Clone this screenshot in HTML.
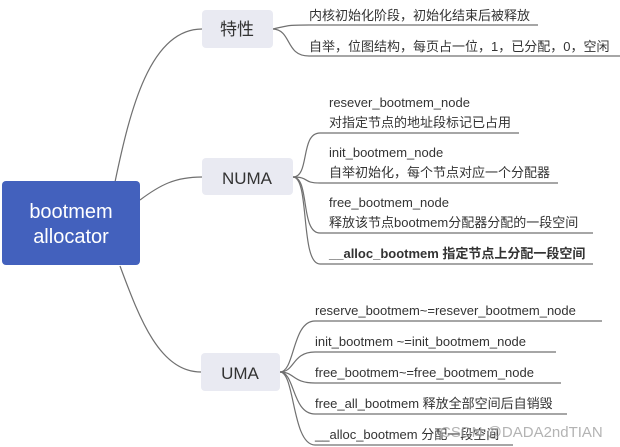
<!DOCTYPE html>
<html><head><meta charset="utf-8"><style>
body{margin:0;background:#fff;}
svg{display:block;font-family:"Liberation Sans","Noto Sans CJK SC",sans-serif;}
</style></head><body>
<svg width="620" height="447" viewBox="0 0 620 447" xmlns="http://www.w3.org/2000/svg">
<g fill="none" stroke="#707070" stroke-width="1.2">
<path d="M115,182 C130,110 150,29 202,29"/>
<path d="M140,200 C160,185 175,177 202,177"/>
<path d="M120,266 C140,320 160,372 201,372"/>
<path d="M273,29 C290,25 290,25 309,25 L538,25"/>
<path d="M273,29 C292,30 285,56 309,56 L620,56"/>
<path d="M293,177 C310,177 300,133 320,133 L519,133"/>
<path d="M293,177 C310,177 302,183 320,183 L558,183"/>
<path d="M293,177 C310,177 300,233 320,233 L593,233"/>
<path d="M293,177 C310,177 300,264 320,264 L593,264"/>
<path d="M280,372 C295,372 292,321 315,321 L602,321"/>
<path d="M280,372 C295,372 292,352 315,352 L556,352"/>
<path d="M280,372 C295,372 292,383 315,383 L561,383"/>
<path d="M280,372 C295,372 292,414 315,414 L567,414"/>
<path d="M280,372 C295,372 292,445 315,445 L513,445"/>
</g>
<rect x="2" y="181" width="138" height="84" rx="4" fill="#4361bd"/>
<text x="71" y="218" fill="#fff" font-size="20" text-anchor="middle">bootmem</text>
<text x="71" y="243" fill="#fff" font-size="20" text-anchor="middle">allocator</text>
<rect x="202" y="10" width="71" height="38" rx="4" fill="#e9eaf2"/>
<text x="237" y="35" font-size="17" fill="#333" text-anchor="middle">特性</text>
<rect x="202" y="158" width="91" height="37" rx="4" fill="#e9eaf2"/>
<text x="247" y="184" font-size="17" fill="#333" text-anchor="middle">NUMA</text>
<rect x="201" y="353" width="79" height="38" rx="4" fill="#e9eaf2"/>
<text x="240" y="379" font-size="17" fill="#333" text-anchor="middle">UMA</text>
<g font-size="13" fill="#333">
<text x="309" y="20">内核初始化阶段，初始化结束后被释放</text>
<text x="309" y="51">自举，位图结构，每页占一位，1，已分配，0，空闲</text>
<text x="329" y="107">resever_bootmem_node</text>
<text x="329" y="127">对指定节点的地址段标记已占用</text>
<text x="329" y="157">init_bootmem_node</text>
<text x="329" y="177">自举初始化，每个节点对应一个分配器</text>
<text x="329" y="207">free_bootmem_node</text>
<text x="329" y="227">释放该节点bootmem分配器分配的一段空间</text>
<text x="329" y="258" font-weight="bold">__alloc_bootmem 指定节点上分配一段空间</text>
<text x="315" y="315">reserve_bootmem~=resever_bootmem_node</text>
<text x="315" y="346">init_bootmem ~=init_bootmem_node</text>
<text x="315" y="377">free_bootmem~=free_bootmem_node</text>
<text x="315" y="408">free_all_bootmem 释放全部空间后自销毁</text>
<text x="315" y="439">__alloc_bootmem 分配一段空间</text>
</g>
<text x="440" y="437" font-size="15" fill="#999" fill-opacity="0.75">CSDN @DADA2ndTIAN</text>
</svg>
</body></html>
